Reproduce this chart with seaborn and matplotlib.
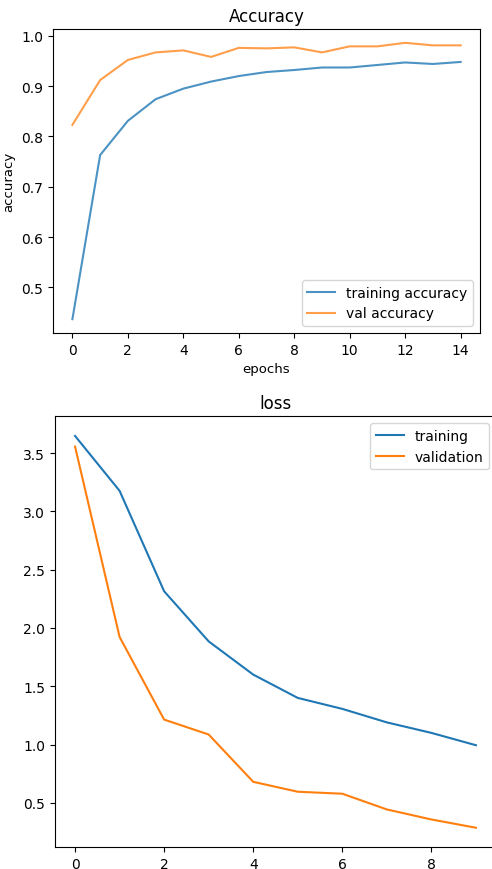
import matplotlib
matplotlib.use("Agg")
import matplotlib.pyplot as plt
import seaborn as sns

# dados de precisão (15 épocas)
epochs_acc = list(range(15))
train_acc = [0.437, 0.763, 0.831, 0.874, 0.895, 0.909, 0.920, 0.928, 0.932,
             0.937, 0.937, 0.942, 0.947, 0.944, 0.948]
val_acc = [0.823, 0.912, 0.952, 0.967, 0.971, 0.958, 0.976, 0.975, 0.977,
           0.967, 0.979, 0.979, 0.986, 0.981, 0.981]

# dados de perda (10 épocas)
epochs_loss = list(range(10))
train_loss = [3.648, 3.177, 2.315, 1.885, 1.600, 1.400, 1.306, 1.190, 1.100, 0.994]
val_loss = [3.557, 1.923, 1.214, 1.086, 0.680, 0.595, 0.578, 0.443, 0.357, 0.286]

azul = "#1f77b4"
laranja = "#ff7f0e"


def main():
    fig = plt.figure(figsize=(4.92, 8.70), dpi=100)

    # gráfico de precisão
    ax1 = fig.add_axes([0.1077, 0.6161, 0.868, 0.3494])
    sns.lineplot(x=epochs_acc, y=train_acc, ax=ax1, color=azul, alpha=0.8,
                 label="training accuracy")
    sns.lineplot(x=epochs_acc, y=val_acc, ax=ax1, color=laranja, alpha=0.75,
                 label="val accuracy")
    ax1.set_title("Accuracy")
    ax1.set_xlabel("epochs", fontsize=9.5)
    ax1.set_ylabel("accuracy", fontsize=9.5)
    ax1.set_xticks(range(0, 15, 2))
    ax1.legend(loc="lower right")

    # gráfico de perda
    ax2 = fig.add_axes([0.1118, 0.0249, 0.8963, 0.4954])
    sns.lineplot(x=epochs_loss, y=train_loss, ax=ax2, color=azul, label="training")
    sns.lineplot(x=epochs_loss, y=val_loss, ax=ax2, color=laranja, label="validation")
    ax2.set_title("loss")
    ax2.set_xticks(range(0, 10, 2))
    ax2.legend(loc="upper right")

    fig.savefig("out.png", dpi=100)


if __name__ == "__main__":
    main()
